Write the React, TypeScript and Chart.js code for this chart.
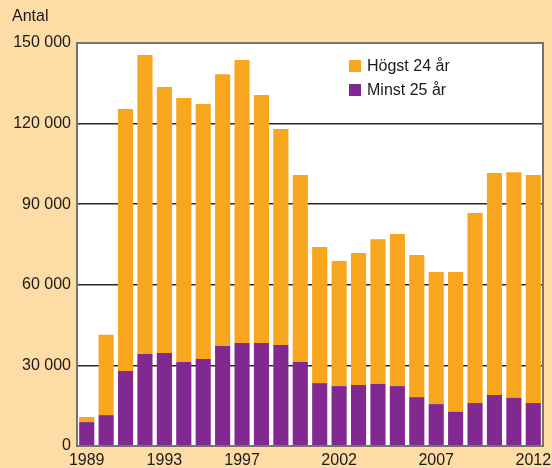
import React, { useEffect, useRef } from "react";
import { Chart, registerables } from "chart.js";

Chart.register(...registerables);

const years = [
  "1989", "1990", "1991", "1992", "1993", "1994", "1995", "1996", "1997", "1998", "1999", "2000",
  "2001", "2002", "2003", "2004", "2005", "2006", "2007", "2008", "2009", "2010", "2011", "2012",
];
const minst25 = [
  8900, 11500, 27900, 34200, 34600, 31300, 32400, 37200, 38300, 38300, 37600, 31300,
  23400, 22300, 22700, 23100, 22300, 18200, 15600, 12700, 16000, 19000, 17900, 16000,
];
const hogst24 = [
  1900, 29900, 97500, 111300, 99000, 98200, 94900, 101200, 105400, 92300, 80400, 69600,
  50700, 46600, 49100, 53900, 56600, 52900, 49200, 52100, 70700, 82600, 84000, 84900,
];
const shownYears = ["1989", "1993", "1997", "2002", "2007", "2012"];
const seriesNames = ["Högst 24 år", "Minst 25 år"];
const yTitle = "Antal";

const ORANGE = "#F8A61E";
const PURPLE = "#812990";
const BG = "#FDDCA6";
const FONT = "'Liberation Sans', Arial, Helvetica, sans-serif";

const fmt = (v: number) => String(v).replace(/\B(?=(\d{3})+(?!\d))/g, " ");

export default function App() {
  const ref = useRef<HTMLCanvasElement | null>(null);
  useEffect(() => {
    if (!ref.current) return;
    const decor = {
      id: "decor",
      beforeDraw(chart: any) {
        const { ctx, chartArea: a } = chart;
        ctx.save();
        ctx.fillStyle = BG;
        ctx.fillRect(0, 0, chart.width, chart.height);
        ctx.fillStyle = "#ffffff";
        ctx.fillRect(a.left, a.top, a.right - a.left, a.bottom - a.top);
        ctx.restore();
      },
      afterDatasetsDraw(chart: any) {
        const { ctx, chartArea: a } = chart;
        ctx.save();
        ctx.strokeStyle = "#77736b";
        ctx.lineWidth = 2;
        ctx.strokeRect(a.left, a.top, a.right - a.left, a.bottom - a.top);
        ctx.restore();
      },
      afterDraw(chart: any) {
        const { ctx } = chart;
        ctx.save();
        ctx.font = `16px ${FONT}`;
        ctx.fillStyle = "#1a1a1a";
        ctx.textBaseline = "middle";
        ctx.textAlign = "left";
        ctx.fillText(yTitle, 12, 17);
        const colors = [ORANGE, PURPLE];
        seriesNames.forEach((name, i) => {
          const y = 60 + i * 24;
          ctx.fillStyle = colors[i];
          ctx.fillRect(349, y, 12, 12);
          ctx.fillStyle = "#1a1a1a";
          ctx.fillText(name, 367, y + 6.5);
        });
        ctx.restore();
      },
    };
    const chart = new Chart(ref.current, {
      type: "bar",
      data: {
        labels: years,
        datasets: [
          {
            label: seriesNames[1],
            data: minst25,
            backgroundColor: PURPLE,
            barPercentage: 0.78,
            categoryPercentage: 1,
          },
          {
            label: seriesNames[0],
            data: hogst24,
            backgroundColor: ORANGE,
            barPercentage: 0.78,
            categoryPercentage: 1,
          },
        ],
      },
      options: {
        animation: false,
        responsive: false,
        maintainAspectRatio: false,
        layout: { padding: { top: 43, right: 9, left: 0, bottom: 0 } },
        plugins: { legend: { display: false }, title: { display: false }, tooltip: { enabled: false } },
        scales: {
          x: {
            stacked: true,
            grid: { display: false, drawTicks: false },
            border: { display: false },
            afterFit: (s: any) => {
              s.height = 22;
              s.paddingLeft = 0;
              s.paddingRight = 0;
            },
            ticks: {
              autoSkip: false,
              maxRotation: 0,
              padding: 5,
              color: "#1a1a1a",
              font: { family: FONT, size: 16 },
              callback: function (this: any, val: any) {
                const l = years[val as number];
                return shownYears.includes(l) ? l : "";
              },
            },
          },
          y: {
            stacked: true,
            min: 0,
            max: 150000,
            afterFit: (s: any) => {
              s.width = 77;
              s.paddingTop = 0;
              s.paddingBottom = 0;
            },
            border: { display: false },
            grid: {
              drawTicks: false,
              lineWidth: 1.6,
              color: (c: any) =>
                c.tick && (c.tick.value === 0 || c.tick.value === 150000) ? "rgba(0,0,0,0)" : "#2a2a2a",
            },
            ticks: {
              stepSize: 30000,
              padding: 6,
              color: "#1a1a1a",
              font: { family: FONT, size: 16 },
              callback: (v: any) => fmt(Number(v)),
            },
          },
        },
      },
      plugins: [decor],
    });
    return () => chart.destroy();
  }, []);
  return (
    <div style={{ position: "absolute", left: 0, top: 0, width: 552, height: 468, background: BG }}>
      <canvas ref={ref} width={552} height={468} style={{ display: "block", width: 552, height: 468 }} />
    </div>
  );
}
